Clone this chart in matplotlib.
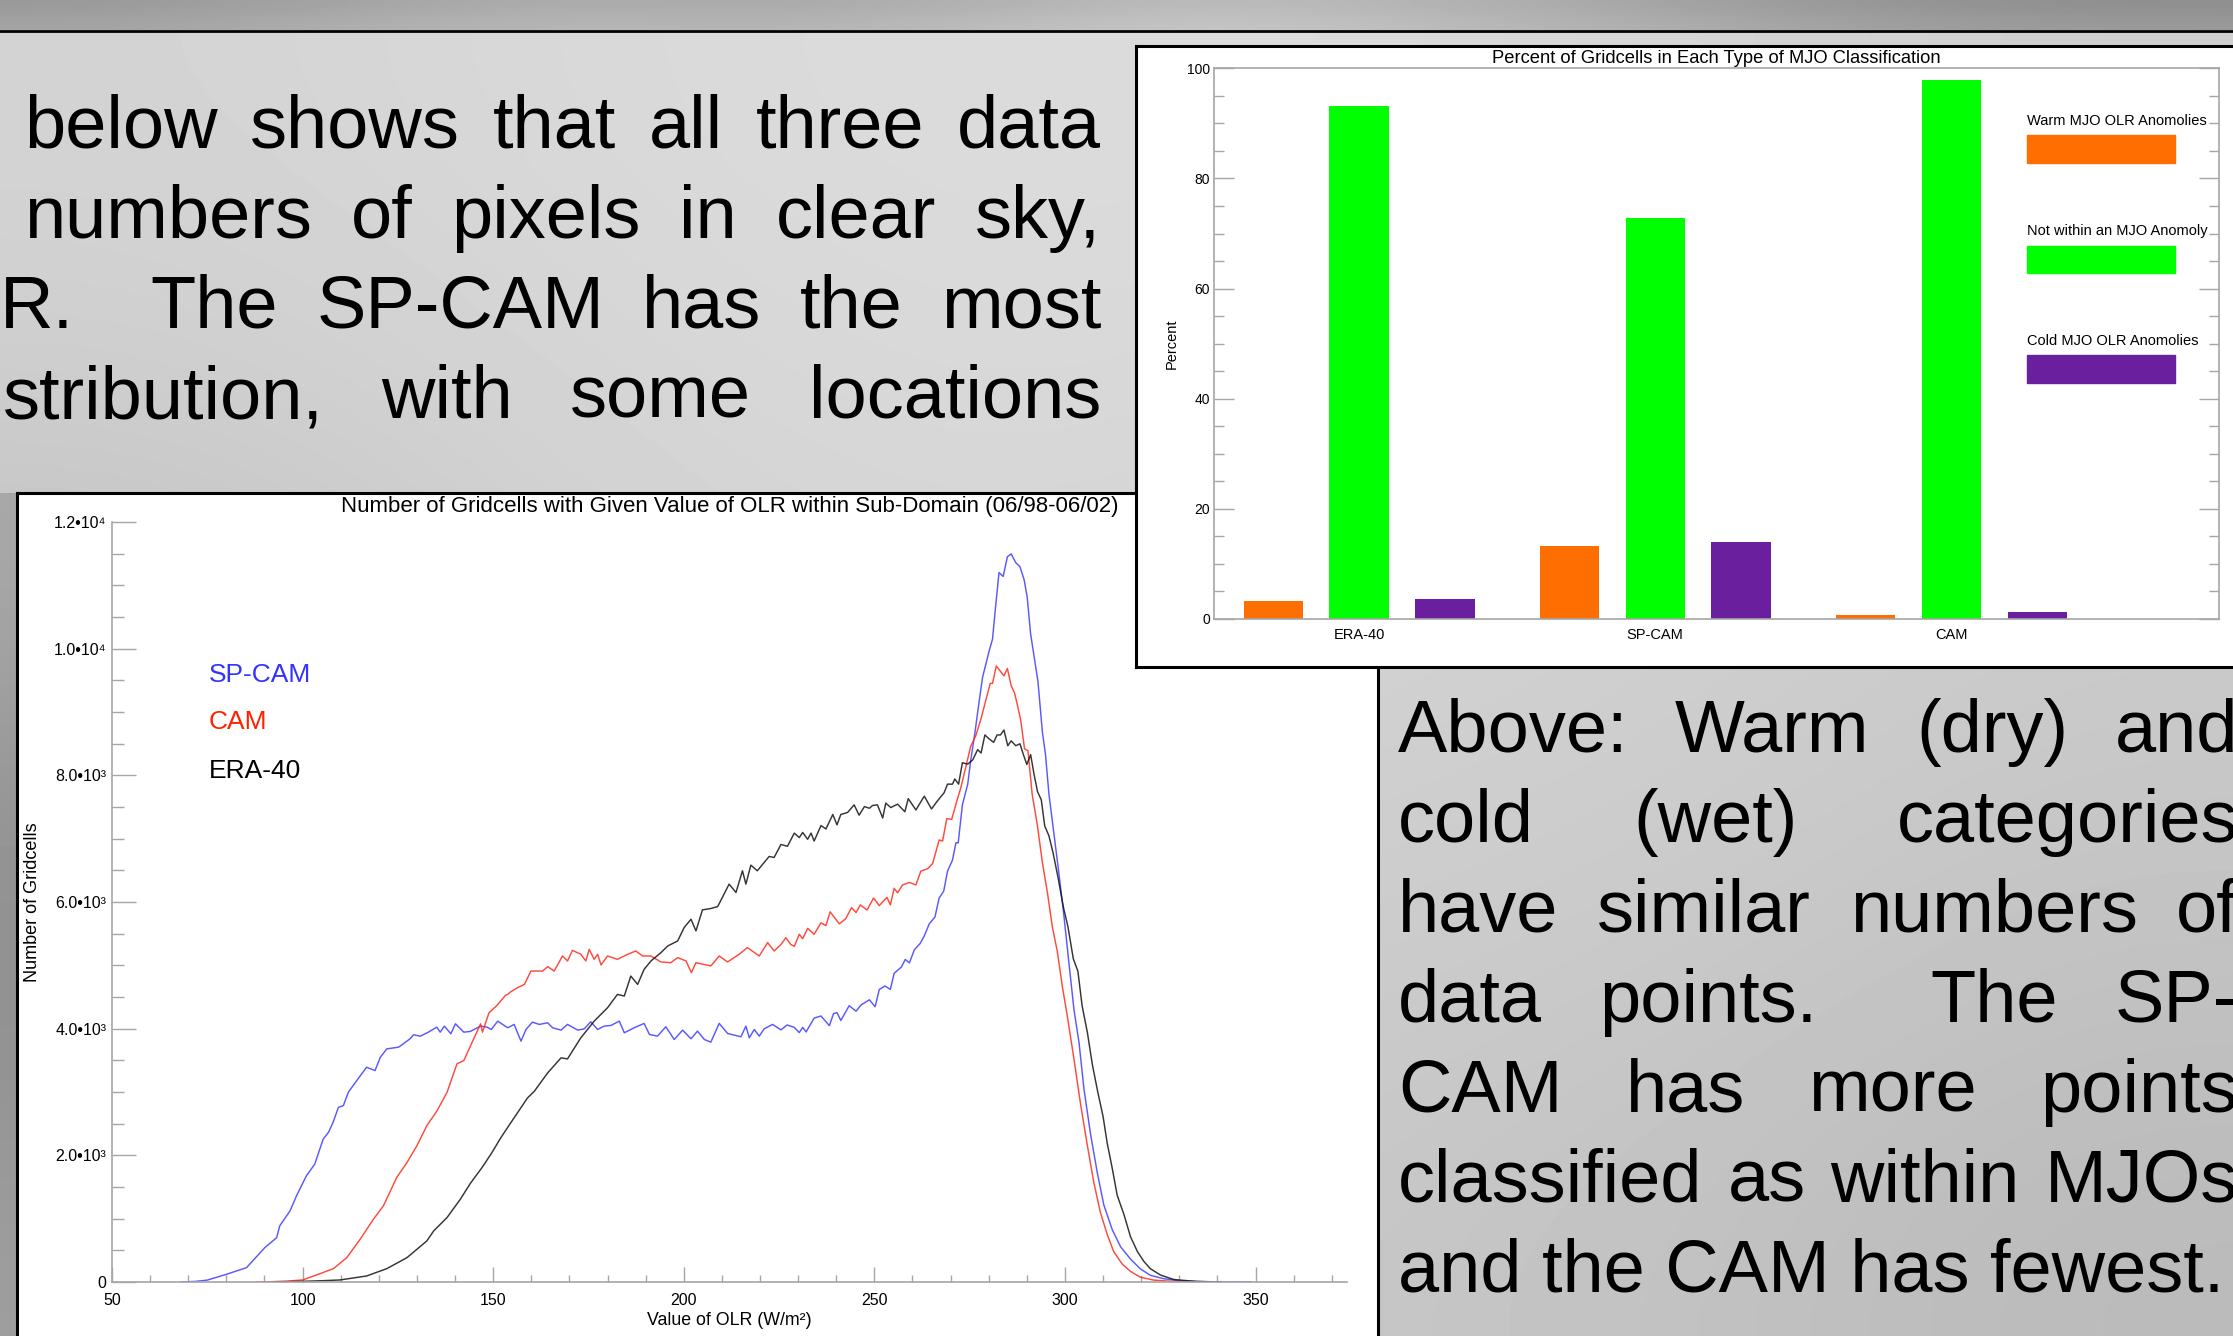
import numpy as np
import matplotlib
matplotlib.use('Agg')
import matplotlib.pyplot as plt
from matplotlib.patches import Rectangle

W, H, DPI = 2233, 1336, 100
FONT = ['Liberation Sans', 'DejaVu Sans']
plt.rcParams['font.family'] = FONT

# ---------------- data: bar chart ----------------
bar_title = "Percent of Gridcells in Each Type of MJO Classification"
datasets = ["ERA-40", "SP-CAM", "CAM"]
warm_pct = [3.3, 13.3, 0.8]
neutral_pct = [93.2, 72.8, 97.9]
cold_pct = [3.6, 14.0, 1.2]
bar_legend = ["Warm MJO OLR Anomolies", "Not within an MJO Anomoly", "Cold MJO OLR Anomolies"]
bar_colors = ["#ff6e00", "#00ff00", "#6a1f9f"]

# ---------------- data: OLR histograms ----------------
spcam_olr = [68, 72, 75, 80, 85.3, 90.1, 92, 93.2, 94, 96.7, 98.4, 101, 103.2, 105.4, 106.8, 108,
             109.4, 110.7, 112, 114.2, 116.8, 119, 120.4, 122.1, 125.2, 128.2, 129.1, 130.9, 133,
             135.2, 136.1, 137.2, 138.9, 140.1, 142.3, 144, 146.7, 148.4, 149.5, 151.2, 153.8, 155.5,
             157.3, 158.6, 160.3, 162.1, 164.3, 165.6, 167.8, 169.5, 172.2, 173.9, 175.6, 177.4,
             179.1, 180.9, 183.1, 184.4, 187, 189.6, 191, 193.1, 195.3, 197.5, 199.7, 201.9, 203.6,
             205.4, 207.1, 209.3, 211.5, 215, 216.3, 217.2, 218.5, 219.8, 221.1, 223.3, 225.5,
             227.1, 229, 230.3, 231.2, 232.1, 234.2, 236, 238.2, 239.3, 240.2, 241.2, 243.4, 245.2,
             246.5, 248.7, 250.2, 251.3, 252.8, 254.2, 255.2, 257.1, 258.1, 259.2, 260.5, 262,
             263.1, 264.4, 265.9, 267, 268.2, 269.2, 270.5, 271.4, 272, 273.1, 274.5, 275.3, 276.4,
             277.5, 278.4, 279.3, 280.1, 281, 281.8, 282.7, 283.8, 284.9, 285.9, 287.1, 288.2,
             289.3, 290.1, 291, 292.9, 294.1, 294.9, 295.8, 297.1, 298.4, 299.7, 301, 302.4, 303.7,
             305, 306.7, 308.5, 310.2, 312.4, 314.6, 317.2, 319.8, 322.4, 325.9, 330.3, 339, 349]
spcam_count = [0, 10, 30, 121, 227, 543, 640, 700, 886, 1123, 1360, 1677, 1862, 2257, 2363, 2521,
               2758, 2785, 2996, 3180, 3391, 3338, 3549, 3681, 3708, 3840, 3903, 3882, 3945,
               4024, 3945, 4040, 3919, 4077, 3945, 3956, 4040, 4024, 3987, 4119, 4014, 4067,
               3803, 3987, 4103, 4067, 4093, 4014, 3977, 4067, 3977, 3998, 4109, 3987,
               4040, 4051, 4119, 3935, 4014, 4083, 3908, 3882, 4030, 3829, 3977, 3840, 3961,
               3829, 3787, 4083, 3924, 3872, 4040, 3856, 3987, 3882, 3998, 4067, 3981,
               4058, 4020, 3938, 4020, 3949, 4167, 4200, 4047, 4238, 4254, 4129, 4363, 4276,
               4374, 4456, 4347, 4619, 4674, 4619, 4875, 4973, 5093, 5039, 5246, 5344,
               5464, 5655, 5763, 6063, 6172, 6488, 6662, 6935, 6935, 7534, 7861, 8243, 8679,
               9169, 9550, 9768, 9959, 10150, 10658, 11202, 11140, 11451, 11497, 11358, 11295,
               11086, 10814, 10231, 9493, 8677, 8327, 7705, 7084, 6462, 5801, 5063, 4286, 3781,
               3043, 2343, 1722, 1217, 828, 556, 362, 207, 106, 52, 16, 3, 0]

cam_olr = [88, 92, 96, 100, 104.6, 108.1, 111.6, 115.1, 118.6, 121.2, 124.7, 127.4, 130, 132.6,
           135.3, 137.9, 140.5, 142.3, 144.9, 146.7, 147.2, 148.9, 151, 153.2, 153.8, 154.5, 156.4,
           158.2, 159.9, 163, 164.3, 166, 168.2, 169.5, 170.8, 173, 174.3, 175.2, 176.5, 177.4,
           178.3, 180, 182.6, 185.3, 187.4, 189.2, 191.4, 194, 196.6, 198.4, 200.6, 202, 203.2,
           207.1, 209.3, 211.5, 214.5, 216.7, 219.8, 222, 223.7, 225.5, 226.8, 228.1, 229, 230.3,
           231.2, 232.5, 234.2, 236, 237.3, 238.4, 240.8, 242.5, 244, 245.2, 246.3, 248.1, 249.8,
           251.3, 253.3, 254.2, 255.2, 256.1, 257.4, 259.2, 260.9, 262.2, 264, 265.3, 267, 267.9,
           269, 270.3, 271.4, 272.7, 274, 275.3, 276.6, 278, 279.3, 280.4, 281, 282, 283, 284,
           284.9, 285.9, 286.8, 287.7, 288.4, 289.4, 290.3, 291.4, 292.8, 294.1, 295.4, 296.7, 298,
           299.3, 300.6, 302.4, 304.1, 305.9, 307.6, 309.3, 311.1, 312.8, 315, 317.2, 319.8, 323.3,
           328.6, 336]
cam_count = [0, 5, 15, 32, 132, 211, 385, 675, 992, 1202, 1651, 1888, 2152, 2468,
             2706, 2996, 3444, 3497, 3840, 4077, 3945, 4251, 4367, 4525, 4541, 4578, 4647,
             4699, 4910, 4910, 4979, 4910, 5148, 5069, 5237, 5174, 5069, 5253, 5095, 5174,
             5006, 5148, 5095, 5174, 5227, 5148, 5148, 5053, 5042, 5122, 5069, 4884, 5042,
             4990, 5148, 5053, 5174, 5280, 5148, 5359, 5227, 5328, 5437, 5328, 5300, 5491,
             5420, 5584, 5491, 5671, 5627, 5845, 5655, 5736, 5911, 5834, 5954, 5873, 6063,
             5943, 6074, 5954, 6216, 6145, 6270, 6308, 6270, 6488, 6526, 6608, 6979, 6962,
             7316, 7305, 7545, 7807, 8134, 8461, 8624, 8897, 9196, 9452, 9452, 9726, 9648, 9570,
             9687, 9415, 9298, 9065, 8871, 8420, 8389, 7705, 7200, 6617, 6151, 5607, 5219,
             4675, 4208, 3509, 2809, 2149, 1566, 1100, 750, 479, 285, 168, 75, 30,
             8, 0]

era_olr = [92, 100, 105, 109.8, 116.8, 122.1, 127.4, 132.6, 134.4, 137.9, 141.4, 144, 147.1,
           149.7, 151.9, 154.1, 159, 160.8, 164.3, 167.8, 169.5, 173, 176.5, 180, 182.6, 184.4,
           186.1, 187.9, 189.6, 191.4, 194, 195.8, 198.4, 200.1, 201.9, 203.2, 204.9, 207.1,
           208.9, 211.9, 213.7, 215.4, 216.3, 217.6, 219.3, 222.4, 223.7, 225.5, 227.2, 229,
           230.3, 231.2, 232.5, 233.4, 234.2, 236, 237.3, 239.1, 240.2, 241.2, 243, 244.7, 246,
           247.4, 248.7, 249.5, 250.8, 252.2, 253, 254.3, 256.1, 258, 258.9, 260.9, 263.1, 265,
           266.6, 268.3, 269.2, 270.5, 271.1, 272.1, 273.1, 274.5, 275.8, 277.1, 278, 279, 280.1,
           281.3, 282.2, 283.1, 284, 285, 285.9, 287.1, 288.2, 289.1, 290, 291, 291.9, 292.8,
           293.8, 294.7, 295.8, 296.9, 298.2, 299.6, 300.8, 302.2, 303.4, 304.5, 305.9, 307.2,
           308.6, 310, 311.1, 312.4, 313.7, 315.5, 317.2, 319, 320.7, 322.4, 325.1, 328.6, 334.7,
           341]
era_count = [0, 10, 20, 32, 95, 211, 385, 649, 807, 1018, 1308, 1556, 1809,
             2046, 2268, 2468, 2906, 3012, 3302, 3539, 3523, 3856, 4119, 4330, 4541, 4515,
             4831, 4699, 4937, 5069, 5200, 5306, 5385, 5596, 5728, 5543, 5876, 5897,
             5928, 6282, 6150, 6493, 6282, 6582, 6493, 6719, 6703, 6908, 6880, 7088,
             7017, 7098, 6990, 7088, 6962, 7207, 7153, 7382, 7218, 7382, 7414, 7534, 7371,
             7507, 7480, 7523, 7534, 7327, 7562, 7491, 7545, 7425, 7632, 7453, 7671, 7469,
             7600, 7725, 7861, 7861, 7943, 7861, 8199, 8177, 8243, 8406, 8352, 8638, 8576,
             8521, 8638, 8638, 8716, 8467, 8545, 8467, 8498, 8327, 8172, 8327, 8016, 7744,
             7612, 7200, 7045, 6773, 6384, 5918, 5607, 5102, 4908, 4364, 3936, 3431,
             3004, 2615, 2188, 1799, 1372, 1062, 715, 482, 326, 210, 109, 39, 8,
             0]

line_title = "Number of Gridcells with Given Value of OLR within Sub-Domain (06/98-06/02)"
series_names = ["SP-CAM", "CAM", "ERA-40"]
series_colors = ["#3c3cff", "#ff2a1a", "#111111"]
ytick_vals = [0, 2000, 4000, 6000, 8000, 10000, 12000]
ytick_labels = ["0", "2.0\u202210\u00b3", "4.0\u202210\u00b3", "6.0\u202210\u00b3",
                "8.0\u202210\u00b3", "1.0\u202210\u2074", "1.2\u202210\u2074"]
xtick_vals = [50, 100, 150, 200, 250, 300, 350]

# ---------------- slide text ----------------
left_lines = [
    ["below", "shows", "that", "all", "three", "data"],
    ["numbers", "of", "pixels", "in", "clear", "sky,"],
    ["R.", "The", "SP-CAM", "has", "the", "most"],
    ["stribution,", "with", "some", "locations"],
]
left_gapw = [None, None, [2, 1, 1, 1, 1], None]
left_starts = [24, 24, 0, 3]
right_lines = [
    ["Above:", "Warm", "(dry)", "and"],
    ["cold", "(wet)", "categories"],
    ["have", "similar", "numbers", "of"],
    ["data", "points.", "The", "SP-"],
    ["CAM", "has", "more", "points"],
    ["classified", "as", "within", "MJOs"],
]
right_gapw = [None, None, None, [1, 2, 1], None, None]
right_last = "and the CAM has fewest."

GRID = '#a6a6a6'

fig = plt.figure(figsize=(W / DPI, H / DPI), dpi=DPI)

# ---------------- background ----------------
bg = fig.add_axes([0, 0, 1, 1], zorder=0)
main_grid = np.array([
    [0.83, 0.85, 0.86, 0.86, 0.84, 0.81],
    [0.80, 0.83, 0.85, 0.84, 0.82, 0.80],
    [0.74, 0.81, 0.83, 0.82, 0.81, 0.79],
    [0.70, 0.79, 0.81, 0.80, 0.79, 0.76],
    [0.68, 0.77, 0.79, 0.78, 0.76, 0.73],
])
strip_grid = np.array([[0.60, 0.64, 0.68, 0.66, 0.70, 0.74, 0.70, 0.64, 0.58, 0.56],
                       [0.64, 0.68, 0.72, 0.70, 0.74, 0.78, 0.73, 0.68, 0.62, 0.60]])
edge_grid = np.array([[0.66], [0.58], [0.56], [0.62]])
bg.imshow(main_grid, cmap='gray', vmin=0, vmax=1, extent=(0, W, H, 32),
          interpolation='bicubic', aspect='auto')
bg.imshow(strip_grid, cmap='gray', vmin=0, vmax=1, extent=(0, W, 30, 0),
          interpolation='bicubic', aspect='auto')
bg.imshow(edge_grid, cmap='gray', vmin=0, vmax=1, extent=(0, 17, H, 493),
          interpolation='bicubic', aspect='auto')
bg.plot([0, W], [31, 31], color='black', lw=2.0)
bg.set_xlim(0, W)
bg.set_ylim(H, 0)
bg.axis('off')

renderer = fig.canvas.get_renderer()
TXT_SIZE = 53.3


def justify(words, x0, x1, y, weights=None):
    texts = [bg.text(0, y, w, fontsize=TXT_SIZE, ha='left', va='baseline', color='black')
             for w in words]
    widths = [t.get_window_extent(renderer).width for t in texts]
    if weights is None:
        weights = [1] * (len(words) - 1)
    unit = (x1 - x0 - sum(widths)) / sum(weights)
    x = x0
    for i, (t, w) in enumerate(zip(texts, widths)):
        t.set_x(x)
        if i < len(weights):
            x += w + unit * weights[i]


for i, (words, x0) in enumerate(zip(left_lines, left_starts)):
    justify(words, x0, 1101, 148 + 90 * i, left_gapw[i])
for i, words in enumerate(right_lines):
    justify(words, 1398, 2238, 752 + 90 * i, right_gapw[i])
bg.text(1398, 752 + 90 * 6, right_last, fontsize=TXT_SIZE, ha='left', va='baseline', color='black')


def panel(rect, z):
    p = fig.add_axes(rect, zorder=z)
    p.set_xticks([])
    p.set_yticks([])
    p.set_facecolor('white')
    for s in p.spines.values():
        s.set_linewidth(2.2)
        s.set_color('black')
    return p


# ---------------- line chart ----------------
panel([17 / W, -20 / H, (1378 - 17) / W, (H - 493 + 20) / H], 1)
ax = fig.add_axes([112 / W, 1 - 1282 / H, 1235 / W, 760 / H], zorder=2)
ax.patch.set_alpha(0)
for olr, cnt, col in zip([spcam_olr, cam_olr, era_olr], [spcam_count, cam_count, era_count],
                         series_colors):
    ax.plot(olr, cnt, color=col, lw=1.05, alpha=0.85)
ax.set_xlim(50, 374)
ax.set_ylim(0, 12000)
for s in ['top', 'right']:
    ax.spines[s].set_visible(False)
for s in ['left', 'bottom']:
    ax.spines[s].set_color(GRID)
    ax.spines[s].set_linewidth(1.2)
ax.set_xticks(xtick_vals)
ax.set_xticks(np.arange(60, 371, 10), minor=True)
ax.set_yticks(ytick_vals)
ax.set_yticklabels(ytick_labels)
ax.set_yticks(np.arange(500, 12000, 500), minor=True)
ax.tick_params(axis='x', which='major', direction='in', length=10.8, width=1, color=GRID,
               labelsize=11.5, pad=8)
ax.tick_params(axis='x', which='minor', direction='in', length=5, width=1, color=GRID)
ax.tick_params(axis='y', which='major', direction='in', length=17.3, width=1, color=GRID,
               labelsize=11.5, pad=4)
ax.tick_params(axis='y', which='minor', direction='in', length=8.6, width=1, color=GRID)
ax.set_title(line_title, fontsize=16, pad=7)
ax.set_xlabel("Value of OLR (W/m\u00b2)", fontsize=12.8, labelpad=3)
ax.set_ylabel("Number of Gridcells", fontsize=13, labelpad=9)
for name, col, yv in zip(series_names, ["#3333ff", "#ff2200", "black"], [9580, 8840, 8070]):
    ax.text(75.4, yv, name, color=col, fontsize=19, ha='left', va='center')

# ---------------- bar chart ----------------
panel([1136 / W, 1 - 667 / H, (W - 1136 + 30) / W, (667 - 46) / H], 3)
bx = fig.add_axes([1214 / W, 1 - 619 / H, 1005 / W, 550.7 / H], zorder=4)
bx.patch.set_alpha(0)
xc = np.arange(len(datasets))
for off, vals, col in zip([-0.29, 0, 0.29], [warm_pct, neutral_pct, cold_pct], bar_colors):
    bx.bar(xc + off, vals, width=0.2, color=col)
bx.set_xlim(-0.49, 2.904)
bx.set_ylim(0, 100)
for s in bx.spines.values():
    s.set_color(GRID)
    s.set_linewidth(1.2)
bx.set_xticks(xc)
bx.set_xticklabels(datasets)
bx.tick_params(axis='x', length=0, labelsize=10.5, pad=6.5)
bx.set_yticks(range(0, 101, 20))
bx.set_yticks(range(5, 100, 5), minor=True)
bx.tick_params(axis='y', which='major', direction='in', length=14.4, width=1, color=GRID,
               labelsize=10, pad=3, right=True)
bx.tick_params(axis='y', which='minor', direction='in', length=7.2, width=1, color=GRID,
               right=True)
bx.set_title(bar_title, fontsize=13.2, pad=4)
bx.set_ylabel("Percent", fontsize=10.5, labelpad=6)
for lab, col, ty in zip(bar_legend, bar_colors, [89.7, 69.7, 49.75]):
    bx.text(2.255, ty, lab, fontsize=10.5, ha='left', va='baseline', clip_on=False)
    bx.add_patch(Rectangle((2.255, ty - 6.9), 0.5, 5.0, color=col))

fig.savefig("out.png", dpi=DPI)
